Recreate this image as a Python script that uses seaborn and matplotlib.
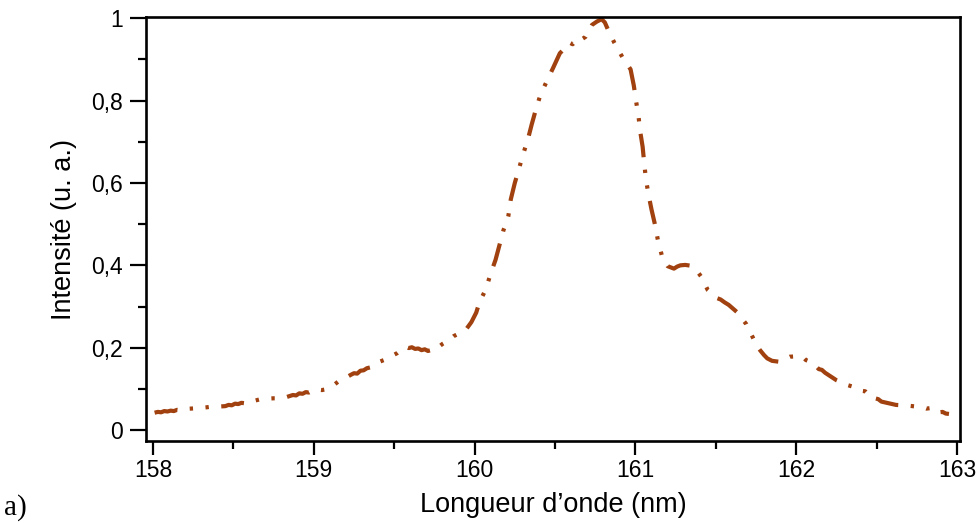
import matplotlib
matplotlib.use("Agg")
import matplotlib.pyplot as plt
import seaborn as sns
import pandas as pd
from matplotlib.ticker import FixedLocator, FixedFormatter

# ---- data ----
wavelength = [
    158.01, 158.03, 158.05, 158.07, 158.09, 158.11, 158.13, 158.15, 158.17, 158.19,
    158.24, 158.28, 158.33, 158.37, 158.41, 158.45, 158.47, 158.49, 158.51, 158.53,
    158.55, 158.57, 158.59, 158.61, 158.63, 158.66, 158.70, 158.75, 158.79, 158.83,
    158.87, 158.89, 158.91, 158.93, 158.95, 158.97, 158.99, 159.01, 159.03, 159.05,
    159.08, 159.12, 159.15, 159.19, 159.23, 159.25, 159.27, 159.29, 159.31, 159.33,
    159.35, 159.37, 159.41, 159.45, 159.48, 159.52, 159.55, 159.57, 159.59, 159.61,
    159.63, 159.65, 159.67, 159.69, 159.71, 159.73, 159.75, 159.77, 159.80, 159.84,
    159.87, 159.91, 159.95, 159.98, 160.01, 160.03, 160.05, 160.07, 160.10, 160.13,
    160.155, 160.18, 160.20, 160.21, 160.225, 160.25, 160.28, 160.30, 160.33, 160.355,
    160.38, 160.41, 160.45, 160.49, 160.53, 160.57, 160.59, 160.61, 160.63, 160.65,
    160.67, 160.69, 160.73, 160.76, 160.79, 160.81, 160.83, 160.87, 160.92, 160.97,
    160.99, 161.005, 161.02, 161.03, 161.045, 161.055, 161.065, 161.08, 161.10, 161.12,
    161.14, 161.165, 161.18, 161.20, 161.22, 161.24, 161.26, 161.28, 161.31, 161.345,
    161.38, 161.41, 161.45, 161.47, 161.49, 161.51, 161.53, 161.555, 161.58, 161.63,
    161.69, 161.71, 161.73, 161.75, 161.775, 161.80, 161.82, 161.85, 161.89, 161.96,
    162.00, 162.04, 162.06, 162.08, 162.10, 162.12, 162.14, 162.16, 162.18, 162.25,
    162.32, 162.39, 162.41, 162.43, 162.45, 162.47, 162.49, 162.51, 162.53, 162.62,
    162.70, 162.79, 162.81, 162.83, 162.85, 162.87, 162.89, 162.91, 162.93, 162.95,
]
intensity = [
    0.042, 0.044, 0.043, 0.046, 0.045, 0.047, 0.046, 0.049, 0.048, 0.051,
    0.052, 0.053, 0.055, 0.057, 0.057, 0.058, 0.061, 0.060, 0.064, 0.063,
    0.066, 0.065, 0.068, 0.067, 0.071, 0.074, 0.076, 0.077, 0.077, 0.080,
    0.085, 0.084, 0.089, 0.088, 0.092, 0.091, 0.095, 0.094, 0.098, 0.097,
    0.099, 0.108, 0.117, 0.125, 0.134, 0.138, 0.137, 0.144, 0.145, 0.150,
    0.152, 0.160, 0.166, 0.172, 0.179, 0.187, 0.196, 0.202, 0.199, 0.201,
    0.197, 0.198, 0.194, 0.196, 0.192, 0.194, 0.193, 0.200, 0.209, 0.218,
    0.228, 0.236, 0.246, 0.262, 0.285, 0.310, 0.326, 0.342, 0.380, 0.413,
    0.450, 0.486, 0.505, 0.520, 0.560, 0.600, 0.640, 0.668, 0.704, 0.742,
    0.777, 0.815, 0.848, 0.881, 0.915, 0.931, 0.941, 0.937, 0.946, 0.943,
    0.950, 0.955, 0.984, 0.992, 0.998, 0.990, 0.972, 0.940, 0.905, 0.876,
    0.837, 0.797, 0.760, 0.725, 0.688, 0.648, 0.611, 0.575, 0.536, 0.502,
    0.461, 0.423, 0.410, 0.398, 0.395, 0.392, 0.397, 0.400, 0.401, 0.399,
    0.388, 0.372, 0.340, 0.333, 0.327, 0.320, 0.317, 0.310, 0.304, 0.287,
    0.257, 0.240, 0.225, 0.208, 0.194, 0.182, 0.174, 0.168, 0.166, 0.178,
    0.179, 0.178, 0.170, 0.167, 0.159, 0.156, 0.148, 0.146, 0.139, 0.121,
    0.109, 0.101, 0.095, 0.094, 0.086, 0.085, 0.077, 0.075, 0.069, 0.061,
    0.059, 0.055, 0.052, 0.053, 0.047, 0.048, 0.043, 0.044, 0.040, 0.039,
]
x_ticks = [158, 159, 160, 161, 162, 163]
x_tick_labels = ["158", "159", "160", "161", "162", "163"]
x_minor = [158.5, 159.5, 160.5, 161.5, 162.5]
y_ticks = [0, 0.2, 0.4, 0.6, 0.8, 1.0]
y_tick_labels = ["0", "0,2", "0,4", "0,6", "0,8", "1"]
y_minor = [0.1, 0.3, 0.5, 0.7, 0.9]

df = pd.DataFrame({"wl": wavelength, "I": intensity})

sns.set_theme(style="ticks")
plt.rcParams["font.family"] = ["Liberation Sans", "DejaVu Sans"]
plt.rcParams["lines.scale_dashes"] = False

fig = plt.figure(figsize=(9.76, 5.23), dpi=100)
ax = fig.add_axes([146 / 976, 1 - 441 / 523, (960 - 146) / 976, (441 - 17) / 523])

sns.lineplot(data=df, x="wl", y="I", ax=ax, sort=False, estimator=None,
             color="#a0410f", linewidth=3.0)
line = ax.lines[0]
line.set_linestyle((0, (17.0, 9.0, 2.4, 9.0, 2.4, 9.0)))
line.set_dash_capstyle("butt")

ax.set_xlim(157.9565, 163.0187)
ax.set_ylim(-0.0267, 1.0032)

ax.xaxis.set_major_locator(FixedLocator(x_ticks))
ax.xaxis.set_major_formatter(FixedFormatter(x_tick_labels))
ax.xaxis.set_minor_locator(FixedLocator(x_minor))
ax.yaxis.set_major_locator(FixedLocator(y_ticks))
ax.yaxis.set_major_formatter(FixedFormatter(y_tick_labels))
ax.yaxis.set_minor_locator(FixedLocator(y_minor))

for s in ax.spines.values():
    s.set_visible(True)
    s.set_color("black")
    s.set_linewidth(1.9)

ax.tick_params(axis="x", which="major", length=10, width=1.6, direction="out",
               labelsize=16.5, pad=3, colors="black")
ax.tick_params(axis="x", which="minor", length=6, width=1.6, direction="out", colors="black")
ax.tick_params(axis="y", which="major", length=11.5, width=1.6, direction="out",
               labelsize=16.5, pad=5, colors="black")
ax.tick_params(axis="y", which="minor", length=6, width=1.6, direction="out", colors="black")

ax.set_xlabel("Longueur d’onde (nm)", fontsize=19.5, color="black", labelpad=7)
ax.set_ylabel("Intensité (u. a.)", fontsize=19.5, color="black", labelpad=10)
ax.grid(False)

fig.text(0.004, 0.004, "a)", fontsize=21, family=["Liberation Serif", "DejaVu Serif"],
         ha="left", va="bottom", color="black")

fig.savefig("out.png", dpi=100, facecolor="white")
